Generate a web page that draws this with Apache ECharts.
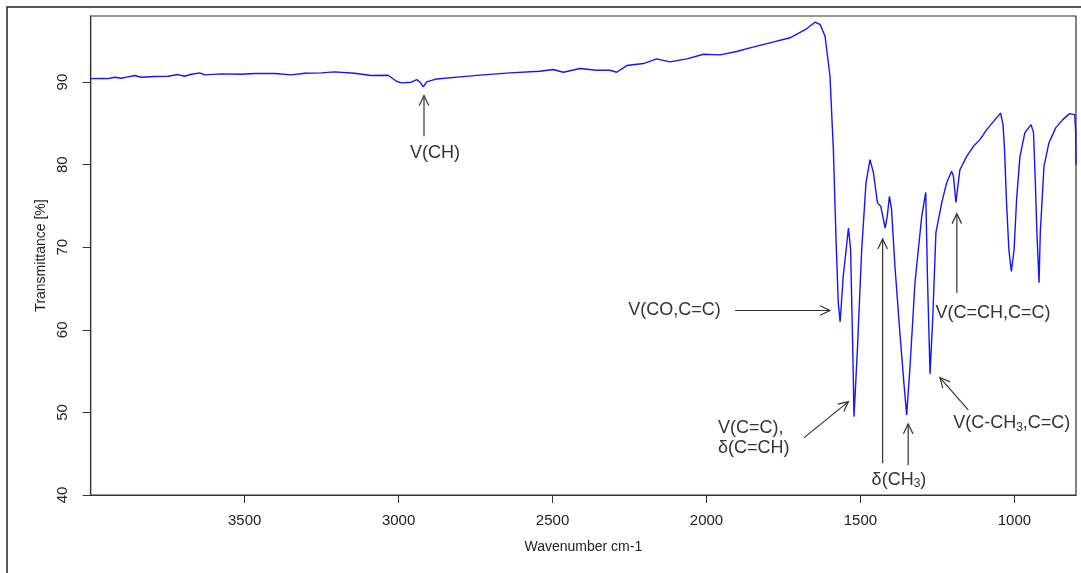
<!DOCTYPE html>
<html>
<head>
<meta charset="utf-8">
<title>IR spectrum</title>
<script src="https://cdn.jsdelivr.net/npm/echarts@6/dist/echarts.min.js"></script>
<style>
  html, body { margin: 0; padding: 0; background: #fff; }
  #chart { width: 1081px; height: 573px; }
</style>
</head>
<body>
<div id="chart"></div>
<script>
// Spectrum samples: wavenumber (cm-1) and transmittance (%)
const wavenumber = [
  4000, 3960, 3943, 3922, 3901, 3879, 3857, 3836, 3792, 3749, 3716, 3695, 3673, 3646, 3630,
  3576, 3511, 3467, 3402, 3348, 3305, 3251, 3208, 3143, 3089, 3034, 3007, 2991, 2959, 2941,
  2930, 2920, 2909, 2876, 2801, 2725, 2638, 2541, 2498, 2465, 2411, 2357, 2313, 2292, 2259,
  2205, 2162, 2119, 2064, 2010, 1956, 1902, 1859, 1794, 1729, 1675, 1648, 1631, 1615, 1599,
  1588, 1579, 1572, 1566, 1556, 1539, 1532, 1525, 1521, 1510, 1496, 1482, 1469, 1458, 1445,
  1434, 1420, 1413, 1406, 1399, 1388, 1372, 1359, 1350, 1339, 1323, 1301, 1288, 1282, 1274,
  1265, 1255, 1236, 1220, 1204, 1198, 1190, 1177, 1155, 1133, 1112, 1090, 1063, 1045, 1037,
  1032, 1026, 1018, 1010, 1001, 993, 982, 966, 946, 938, 932, 927, 920, 916, 904,
  888, 866, 843, 821, 804, 801, 800
];
const transmittance = [
  90.42, 90.44, 90.42, 90.58, 90.46, 90.63, 90.79, 90.58, 90.67, 90.71, 90.91, 90.70, 90.95, 91.11, 90.87,
  90.99, 90.95, 91.03, 91.03, 90.87, 91.07, 91.11, 91.24, 91.07, 90.79, 90.83, 90.10, 89.90, 89.98, 90.30,
  89.98, 89.42, 90.02, 90.38, 90.63, 90.87, 91.11, 91.31, 91.52, 91.19, 91.64, 91.43, 91.43, 91.19, 92.00,
  92.24, 92.81, 92.45, 92.81, 93.37, 93.29, 93.70, 94.14, 94.75, 95.36, 96.45, 97.25, 96.97, 95.55, 90.70,
  81.82, 70.50, 63.24, 60.97, 66.46, 72.33, 69.70, 57.58, 49.49, 57.58, 69.70, 77.82, 80.61, 79.03, 75.40,
  74.95, 72.33, 73.73, 76.16, 74.55, 67.67, 59.64, 53.58, 49.70, 55.55, 65.70, 73.73, 76.64, 65.70, 54.67,
  61.61, 71.76, 75.40, 77.82, 79.19, 78.58, 75.43, 79.39, 81.00, 82.22, 83.03, 84.24, 85.45, 86.24, 84.85,
  81.82, 75.76, 69.70, 67.07, 69.70, 75.76, 81.00, 83.88, 84.85, 83.88, 77.82, 71.76, 65.70, 71.76, 79.80,
  82.63, 84.45, 85.45, 86.18, 86.06, 83.88, 80.00
];

const xTicks = [1000, 1500, 2000, 2500, 3000, 3500];
const yTicks = [40, 50, 60, 70, 80, 90];

// Band assignments: label text and where it sits, in wavenumber / transmittance units
const bandLabels = [
  '{t|V(CH)}',
  '{t|V(CO,C=C)}',
  '{t|V(C=C),}\n{t|δ(C=CH)}',
  '{t|δ(CH}{s|3}{t|)}',
  '{t|V(C=CH,C=C)}',
  '{t|V(C-CH}{s|3}{t|,C=C)}'
];
const labelPoints = [
  [2882, 81.45],
  [1954, 62.34],
  [1963, 46.87],
  [1375, 41.82],
  [1256, 62.02],
  [1199, 48.69]
];
const labelAlign = ['center', 'right', 'left', 'center', 'left', 'left'];

// Arrows: [tail wavenumber, tail %, tip wavenumber, tip %]
const arrows = [
  [2917.5, 83.43, 2917.5, 88.36],
  [1907, 62.34, 1599, 62.34],
  [1683, 46.95, 1539, 51.31],
  [1428, 43.84, 1428, 71.0],
  [1345, 43.64, 1345, 48.61],
  [1187, 64.45, 1187, 74.06],
  [1150, 50.3, 1242, 54.22]
];

const FONT = '"Liberation Sans", Arial, Helvetica, sans-serif';
const INK = '#333';

const chart = echarts.init(document.getElementById('chart'), null, { renderer: 'canvas' });

const spectrum = wavenumber.map((w, i) => [w, transmittance[i]]);

function renderArrow(params, api) {
  const a = api.coord([api.value(0), api.value(1)]);
  const b = api.coord([api.value(2), api.value(3)]);
  const ang = Math.atan2(b[1] - a[1], b[0] - a[0]);
  const len = 11, spread = Math.PI / 7;
  const h1 = [b[0] - len * Math.cos(ang - spread), b[1] - len * Math.sin(ang - spread)];
  const h2 = [b[0] - len * Math.cos(ang + spread), b[1] - len * Math.sin(ang + spread)];
  return {
    type: 'group',
    children: [
      { type: 'line', shape: { x1: a[0], y1: a[1], x2: b[0], y2: b[1] },
        style: { stroke: INK, lineWidth: 1.2 } },
      { type: 'polyline', shape: { points: [h1, b, h2] },
        style: { stroke: INK, lineWidth: 1.2, fill: null } }
    ]
  };
}

function renderLabel(params, api) {
  const p = api.coord([api.value(0), api.value(1)]);
  const i = params.dataIndex;
  return {
    type: 'text',
    x: p[0],
    y: p[1],
    style: {
      text: bandLabels[i],
      align: labelAlign[i],
      verticalAlign: 'middle',
      fill: INK,
      rich: {
        t: { fontSize: 18, fontFamily: FONT, fill: INK, lineHeight: 20 },
        s: { fontSize: 12, fontFamily: FONT, fill: INK, lineHeight: 12, verticalAlign: 'bottom' }
      }
    }
  };
}

chart.setOption({
  animation: false,
  backgroundColor: '#fff',
  textStyle: { fontFamily: FONT },
  graphic: [{
    type: 'rect',
    shape: { x: 7, y: 7, width: 1100, height: 620 },
    style: { fill: null, stroke: '#222', lineWidth: 1.5 },
    silent: true
  }],
  grid: {
    left: 90.7, right: 5, top: 16, bottom: 78,
    show: true, borderColor: INK, borderWidth: 1.2, backgroundColor: 'transparent'
  },
  xAxis: {
    type: 'value',
    inverse: true,
    min: 800,
    max: 4000,
    name: 'Wavenumber cm-1',
    nameLocation: 'middle',
    nameGap: 45,
    nameTextStyle: { fontSize: 14, color: '#222', fontFamily: FONT },
    axisLine: { show: true, lineStyle: { color: INK, width: 1.2 } },
    axisTick: { show: true, length: 8, inside: false, customValues: xTicks, lineStyle: { color: INK } },
    axisLabel: {
      customValues: xTicks, fontSize: 15, color: '#222', margin: 18, fontFamily: FONT,
      formatter: (v) => String(v)
    },
    splitLine: { show: false }
  },
  yAxis: {
    type: 'value',
    min: 40,
    max: 98,
    name: 'Transmittance [%]',
    nameLocation: 'middle',
    nameGap: 42,
    nameTextStyle: { fontSize: 14, color: '#222', fontFamily: FONT },
    axisLine: { show: true, lineStyle: { color: INK, width: 1.2 } },
    axisTick: { show: true, length: 8, inside: false, customValues: yTicks, lineStyle: { color: INK } },
    axisLabel: {
      customValues: yTicks, rotate: 90, fontSize: 15, color: '#222', margin: 20, fontFamily: FONT,
      formatter: (v) => String(v)
    },
    splitLine: { show: false }
  },
  series: [
    {
      type: 'line',
      data: spectrum,
      showSymbol: false,
      lineStyle: { color: '#1414ff', width: 1.4 },
      silent: true
    },
    {
      type: 'custom',
      renderItem: renderArrow,
      data: arrows,
      encode: { x: [0, 2], y: [1, 3] },
      clip: false,
      silent: true
    },
    {
      type: 'custom',
      renderItem: renderLabel,
      data: labelPoints,
      encode: { x: 0, y: 1 },
      clip: false,
      silent: true
    }
  ]
});
</script>
</body>
</html>
